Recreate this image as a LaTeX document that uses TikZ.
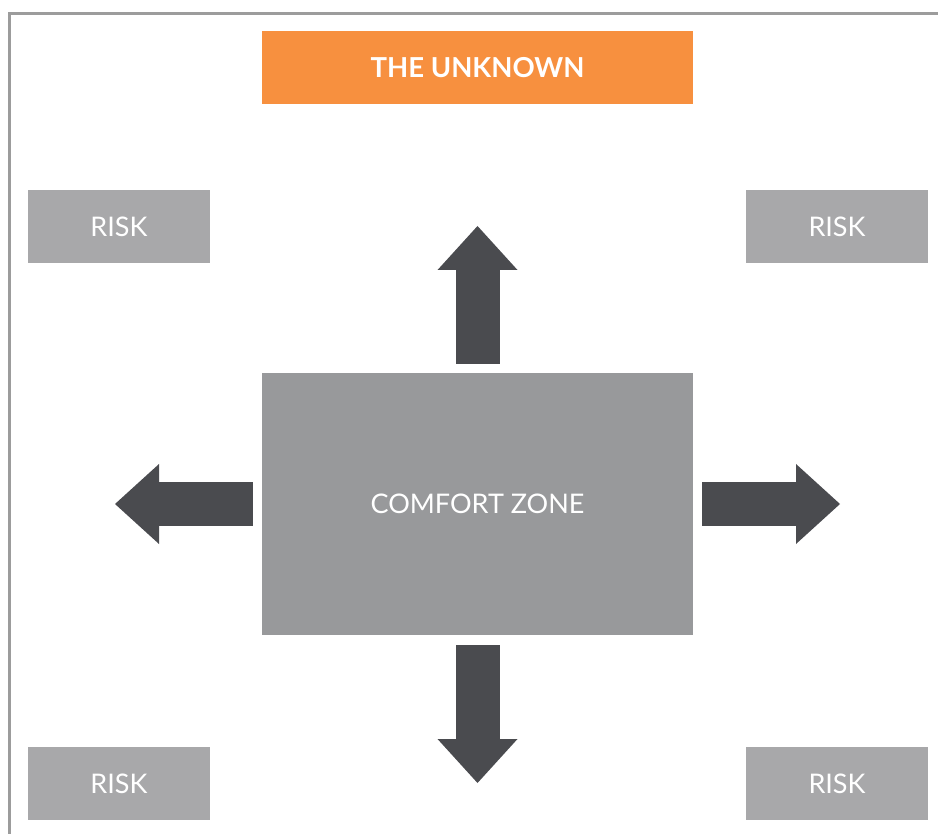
\documentclass[tikz,border=0pt]{standalone}
\usepackage{fontspec}
\setmainfont{Lato}
\usetikzlibrary{arrows.meta}
\definecolor{unknownorange}{HTML}{F7903F}
\definecolor{riskgray}{HTML}{A8A8AA}
\definecolor{zonegray}{HTML}{98999B}
\definecolor{arrowgray}{HTML}{4A4B4F}
\definecolor{framegray}{HTML}{9C9C9C}
\begin{document}
\begin{tikzpicture}[x=1pt, y=-1pt,
	box/.style={rectangle, inner sep=0pt, text=white, font=\fontsize{27}{31}\selectfont},
	riskbox/.style={box, fill=riskgray, minimum width=182pt, minimum height=73pt},
	bigarrow/.style={arrowgray, line width=44pt, -{Triangle[width=80pt, length=44pt, line width=0pt]}}]
		\useasboundingbox (0,0) rectangle (938,834);
		% frame, cut at the right and bottom
		\draw[framegray, line width=3pt] (9.5,900) -- (9.5,14) -- (1000,14);
		\node(UNKNOWN) at (477.5,67.5)[box, fill=unknownorange, minimum width=431pt, minimum height=73pt, font=\fontsize{27.5}{31}\selectfont\bfseries]{THE UNKNOWN};
		\node(ZONE) at (477.5,504)[box, fill=zonegray, minimum width=431pt, minimum height=262pt]{COMFORT ZONE};
		\node(RISK1) at (119,226.5)[riskbox]{RISK};
		\node(RISK2) at (837,226.5)[riskbox]{RISK};
		\node(RISK3) at (119,783.5)[riskbox]{RISK};
		\node(RISK4) at (837,783.5)[riskbox]{RISK};
		\coordinate(TN) at (477.5,226);
		\coordinate(TS) at (477.5,783);
		\coordinate(TW) at (115,504);
		\coordinate(TE) at (840,504);
		\draw[bigarrow] ([yshift=9pt]ZONE.north) -- (TN);
		\draw[bigarrow] ([yshift=-10pt]ZONE.south) -- (TS);
		\draw[bigarrow] ([xshift=-9pt]ZONE.west) -- (TW);
		\draw[bigarrow] ([xshift=9pt]ZONE.east) -- (TE);
	\end{tikzpicture}
\end{document}
